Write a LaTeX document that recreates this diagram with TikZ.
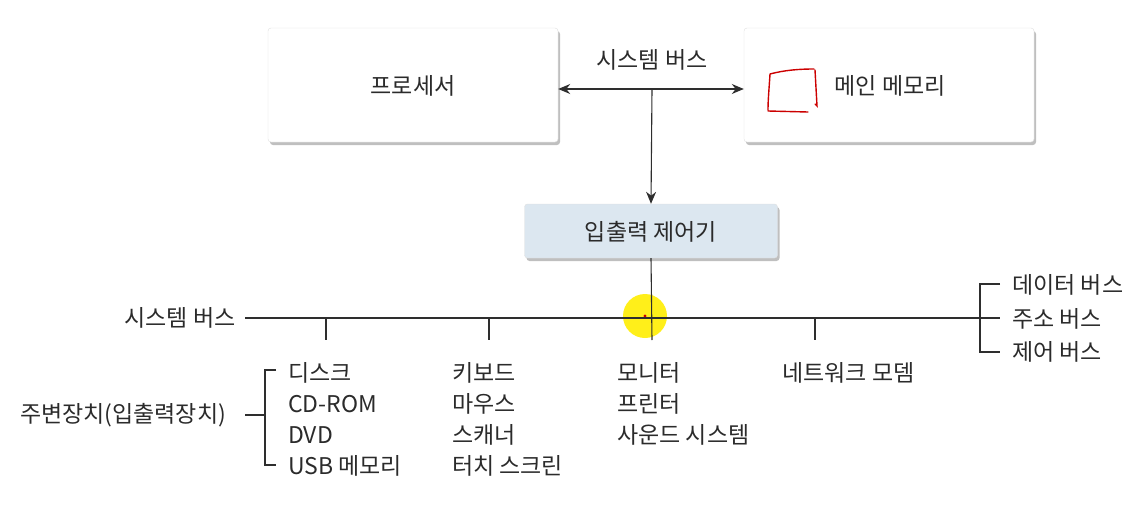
\documentclass[tikz,border=0pt]{standalone}
\usepackage{fontspec}
\setmainfont{Noto Sans CJK KR}
\usetikzlibrary{arrows.meta,shadows}
\definecolor{txt}{HTML}{2B2B2B}
\definecolor{ln}{HTML}{2E2E2E}
\definecolor{iobox}{HTML}{DCE7F0}
\tikzset{
  box/.style={draw=gray!25, rounded corners=3pt, fill=white, minimum width=290pt, minimum height=114pt,
    drop shadow={shadow xshift=2pt, shadow yshift=-3pt, fill=black, opacity=0.25}},
  lbl/.style={text=txt, font=\fontsize{23}{27}\selectfont, inner sep=0pt},
  item/.style={lbl, anchor=west},
  bus/.style={draw=ln, line width=1.1pt},
  tip/.tip={Stealth[length=12pt,width=10pt]},
  arr/.style={bus, -tip},
}
\begin{document}
\begin{tikzpicture}[x=1pt,y=-1pt]
\useasboundingbox (0,0) rectangle (1134,506);
% top boxes
\node[box] (cpu) at (413,85) {};
\node[lbl] (cpuT) at (413,86) {프로세서};
\node[box] (mem) at (889,85) {};
\node[lbl] (memT) at (890,86) {메인 메모리};
\draw[red!80!black, line width=1.4pt, line cap=round]
  (770,74) .. controls (785,70) and (800,69) .. (814,69)
  (815,70) -- (817,106) -- (815,104)
  (770,74) .. controls (769,90) and (768,100) .. (768,110)
  (768,111) -- (808,112);
\node[lbl] (sbT) at (652,60) {시스템 버스};
% IO controller
\node[box, fill=iobox, minimum width=253pt, minimum height=54pt] (io) at (651,231) {};
\node[lbl] (ioT) at (651,232) {입출력 제어기};
% system bus at top
\coordinate (j) at (652,89);
\draw[bus, tip-tip] (cpu.east|-j) -- (mem.west|-j);
\draw[arr] (j) -- (io.north);
% lower bus
\coordinate (bL) at (245,318);
\coordinate (bR) at (980,318);
% highlight cursor
\fill[yellow!95!orange, opacity=0.9] (645,316) circle (22pt);
\fill[red!80!black] (645,316) circle (1.6pt);
\draw[bus] (io.south) -- (652,340);
\draw[bus] (bL) -- (bR);
\node[lbl] (sbL) at (180,318) {시스템 버스};
% ticks
\coordinate (t1) at (326,340);
\coordinate (t2) at (489,340);
\coordinate (t4) at (815,340);
\draw[bus] (t1|-bL) -- (t1);
\draw[bus] (t2|-bL) -- (t2);
\draw[bus] (t4|-bL) -- (t4);
% right bracket
\node[item] (db) at (1012,285) {데이터 버스};
\node[item] (ab) at (1012,319) {주소 버스};
\node[item] (cb) at (1012,352) {제어 버스};
\draw[bus] (1000,284) -- (980,284) -- (980,352) -- (1000,352);
\draw[bus] (bR) -- (1000,318);
% left bracket
\node[lbl] (per) at (123,415) {주변장치(입출력장치)};
\draw[bus] (276,370) -- (265,370) -- (265,465) -- (276,465);
\draw[bus] (245,415) -- (265,415);
% columns
\node[item] (c11) at (288,373) {디스크};
\node[item] (c12) at (288,404) {CD-ROM};
\node[item] (c13) at (288,435) {DVD};
\node[item] (c14) at (288,466) {USB 메모리};
\node[item] (c21) at (452,373) {키보드};
\node[item] (c22) at (452,404) {마우스};
\node[item] (c23) at (452,435) {스캐너};
\node[item] (c24) at (452,466) {터치 스크린};
\node[item] (c31) at (617,373) {모니터};
\node[item] (c32) at (617,404) {프린터};
\node[item] (c33) at (617,435) {사운드 시스템};
\node[item] (c41) at (782,373) {네트워크 모뎀};
\end{tikzpicture}
\end{document}
